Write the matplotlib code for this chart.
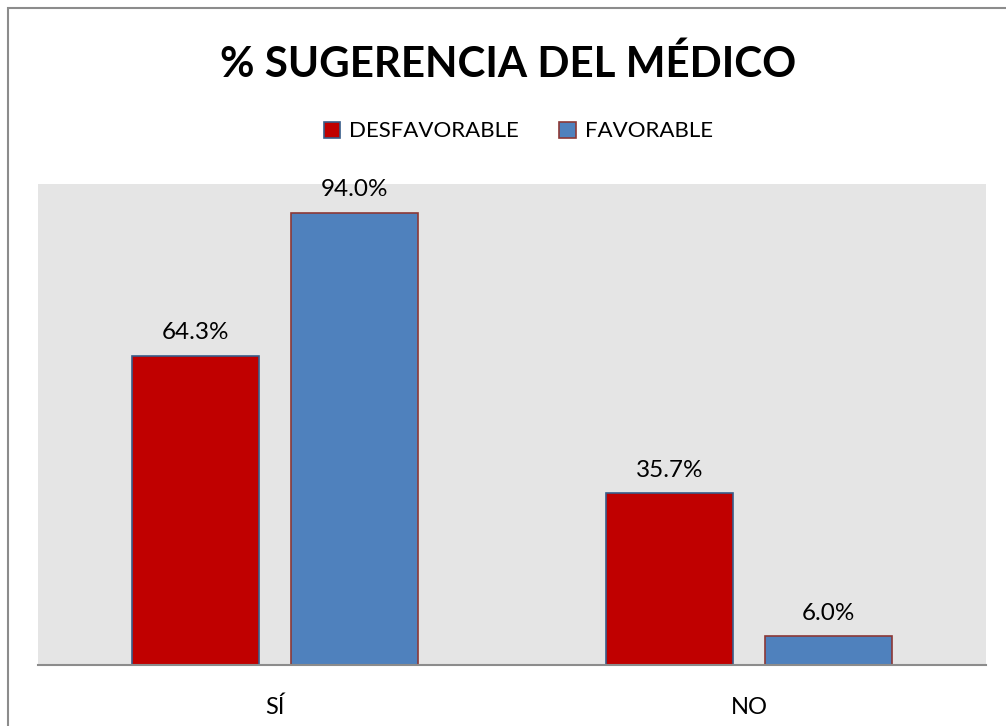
import matplotlib.pyplot as plt
import matplotlib.patches as mpatches
import numpy as np

plt.rcParams['font.family'] = ['Lato', 'DejaVu Sans']

categorias = ['SÍ', 'NO']
desfavorable = [64.3, 35.7]
favorable = [94.0, 6.0]

rojo = '#C00000'
azul = '#4F81BD'
borde_rojo = '#385D8A'
borde_azul = '#8C3836'

fig = plt.figure(figsize=(10.06, 7.26), dpi=100)
ax = fig.add_axes([38 / 1006, 61 / 726, 948 / 1006, 481 / 726])
ax.set_facecolor('#E5E5E5')

x = np.arange(len(categorias))
ancho = 0.267
off = 0.1674
b1 = ax.bar(x - off, desfavorable, ancho, color=rojo, edgecolor=borde_rojo, linewidth=1.2, zorder=2)
b2 = ax.bar(x + off, favorable, ancho, color=azul, edgecolor=borde_azul, linewidth=1.2, zorder=2)

for barras in (b1, b2):
    for b in barras:
        h = b.get_height()
        ax.annotate(f'{h:.1f}%', (b.get_x() + b.get_width() / 2, h),
                    xytext=(0, 9), textcoords='offset points',
                    ha='center', va='bottom', fontsize=17.5)

ax.set_xlim(-0.5, 1.5)
ax.set_ylim(0, 100)
ax.set_yticks([])
ax.set_xticks(x)
ax.set_xticklabels(categorias, fontsize=17)
ax.tick_params(axis='x', length=0, pad=23)
for s in ['top', 'right', 'left']:
    ax.spines[s].set_visible(False)
ax.spines['bottom'].set_color('#8C8C8C')
ax.spines['bottom'].set_linewidth(1.5)

fig.text(0.505, 0.911, '% SUGERENCIA DEL MÉDICO', ha='center', va='center',
         fontsize=30.3, fontweight='bold')

handles = [mpatches.Patch(facecolor=rojo, edgecolor=borde_rojo, linewidth=1.2, label='DESFAVORABLE'),
           mpatches.Patch(facecolor=azul, edgecolor=borde_azul, linewidth=1.2, label='FAVORABLE')]
fig.legend(handles=handles, loc='center', bbox_to_anchor=(0.515, 0.819), ncol=2, frameon=False,
           fontsize=16, handlelength=0.75, handleheight=0.75, handletextpad=0.4, columnspacing=1.8)

fig.patches.append(mpatches.Rectangle((8 / 1006, -0.1), 1.2, 1 - 8 / 726 + 0.1,
                                      transform=fig.transFigure, fill=False,
                                      edgecolor='#8C8C8C', linewidth=1.5))

fig.savefig('out.png', dpi=100, facecolor='white')
